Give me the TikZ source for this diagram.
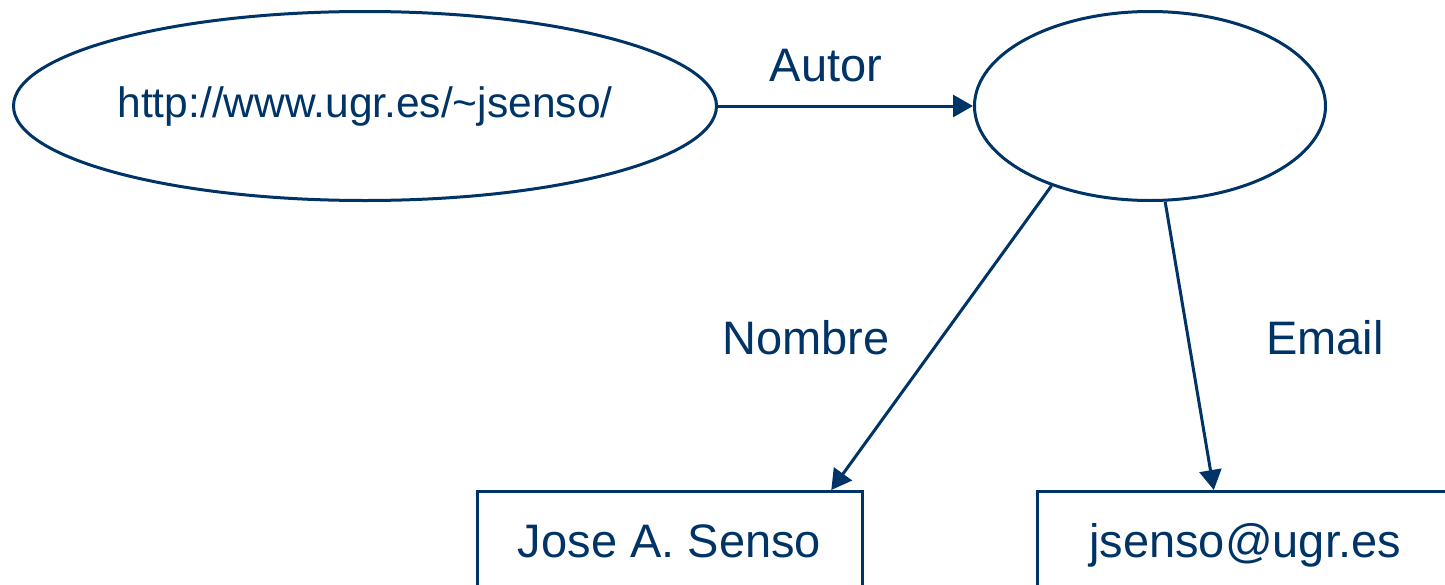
\documentclass[tikz,border=0pt]{standalone}
\usepackage{fontspec}
\setmainfont{Liberation Sans}
\usetikzlibrary{shapes.geometric,arrows.meta,calc}
\definecolor{navy}{RGB}{0,51,102}
\begin{document}
\begin{tikzpicture}[x=1pt,y=-1pt,
  line/.style={draw=navy,line width=3pt},
  res/.style={ellipse,line,inner sep=0pt,text=navy},
  lit/.style={rectangle,line,inner sep=0pt,text=navy,anchor=north,
    minimum height=106pt,text height=34pt,text depth=8pt,
    font=\fontsize{47}{56}\selectfont},
  prop/.style={text=navy,font=\fontsize{47}{56}\selectfont,inner sep=0pt},
  link/.style={draw=navy,line width=3pt,-{Triangle[length=20pt,width=22pt]}}]
\useasboundingbox (0,0) rectangle (1445,584);
\clip (0,0) rectangle (1445,584);

% resources
\node[res,minimum width=703pt,minimum height=189pt,text height=30pt,text depth=7pt,
  font=\fontsize{42.5}{50}\selectfont] (u) at (365,106) {http://www.ugr.es/\char"007E jsenso/};
\node[res,minimum width=351pt,minimum height=189pt] (r) at (1150,106) {};

% literals
\node[lit,minimum width=385pt] (b1) at (669.5,490) {Jose A. Senso};
\node[lit,minimum width=416pt] (b2) at (1245,490) {jsenso@ugr.es};

% property labels
\node[prop] (la) at (826,66) {Autor};
\node[prop] (ln) at (806,338) {Nombre};
\node[prop] (le) at (1325,338) {Email};

% statements
\draw[link] (u) -- (r);
\draw[link] (r.219.5) -- ($(b1.north west)!0.917!(b1.north east)$);
\draw[link] (r.279.7) -- ($(b2.north west)!0.4255!(b2.north east)$);
\end{tikzpicture}
\end{document}
